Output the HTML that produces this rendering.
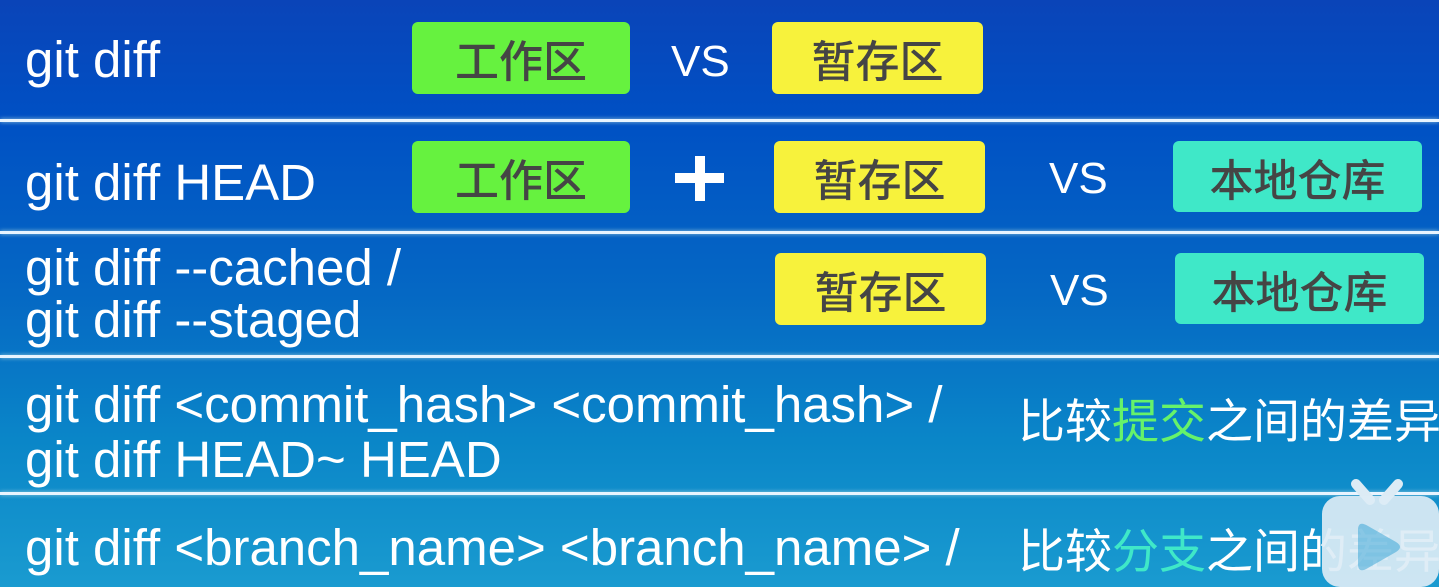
<!DOCTYPE html>
<html><head><meta charset="utf-8"><style>
body{margin:0;width:1439px;height:587px;overflow:hidden;position:relative;
background:linear-gradient(180deg,#0a44b8 0%,#0050c4 20%,#0568c4 50%,#0a86c8 75%,#1a9bd0 100%);
font-family:"Liberation Sans","Noto Sans CJK SC",sans-serif;color:#fff}
.t{position:absolute;font-size:51px;white-space:nowrap;line-height:1;transform-origin:0 50%}
.sep{position:absolute;left:0;width:1439px;height:3px;background:#e8f4ff;box-shadow:0 0 4px #9cd}
.b{position:absolute;border-radius:6px;color:#454545;font-size:44px;display:flex;align-items:center;justify-content:center;font-family:"Noto Sans CJK SC",sans-serif;font-weight:500}
.g{background:#66f23f}.y{background:#f7f23c}.c{background:#3fe8c8}
.vs{position:absolute;font-size:44px;line-height:1}
.cn{position:absolute;font-size:47px;font-family:"Noto Sans CJK SC",sans-serif;line-height:1;white-space:nowrap}
.pl{position:absolute;background:#fff}
</style></head><body>
<div class="sep" style="top:119px"></div>
<div class="sep" style="top:231px"></div>
<div class="sep" style="top:355px"></div>
<div class="sep" style="top:492px"></div>

<div class="t" style="left:25px;top:34px">git diff</div>
<div class="b g" style="left:412px;top:22px;width:218px;height:72px">工作区</div>
<div class="vs" style="left:671px;top:40px">VS</div>
<div class="b y" style="left:772px;top:22px;width:211px;height:72px">暂存区</div>

<div class="t" style="left:25px;top:157px">git diff HEAD</div>
<div class="b g" style="left:412px;top:141px;width:218px;height:72px">工作区</div>
<div class="pl" style="left:675px;top:173px;width:49px;height:10px"></div>
<div class="pl" style="left:695px;top:156px;width:10px;height:45px"></div>
<div class="b y" style="left:774px;top:141px;width:211px;height:72px">暂存区</div>
<div class="vs" style="left:1049px;top:157px">VS</div>
<div class="b c" style="left:1173px;top:141px;width:249px;height:71px">本地仓库</div>

<div class="t" style="left:25px;top:242px">git diff --cached /</div>
<div class="t" style="left:25px;top:294px">git diff --staged</div>
<div class="b y" style="left:775px;top:253px;width:211px;height:72px">暂存区</div>
<div class="vs" style="left:1050px;top:269px">VS</div>
<div class="b c" style="left:1175px;top:253px;width:249px;height:71px">本地仓库</div>

<div class="t" style="left:25px;top:379px">git diff &lt;commit_hash&gt; &lt;commit_hash&gt; /</div>
<div class="t" style="left:25px;top:434px">git diff HEAD~ HEAD</div>
<div class="cn" style="left:1018px;top:394px">比较<span style="color:#66f26a">提交</span>之间的差异</div>

<div class="t" style="left:25px;top:522px">git diff &lt;branch_name&gt; &lt;branch_name&gt; /</div>
<div class="cn" style="left:1018px;top:524px">比较<span style="color:#3fe8c8">分支</span>之间的差异</div>

<svg style="position:absolute;left:1318px;top:478px" width="121" height="109">
<line x1="38" y1="6" x2="52" y2="22" stroke="#dcebf5" stroke-width="10" stroke-linecap="round"/>
<line x1="80" y1="6" x2="66" y2="22" stroke="#dcebf5" stroke-width="10" stroke-linecap="round"/>
<rect x="4" y="18" width="117" height="91" rx="18" fill="#dcebf5" opacity="0.92"/>
<path d="M40 52 L40 86 Q40 96 50 90 L78 74 Q86 69 78 64 L50 48 Q40 42 40 52Z" fill="#1e9ad0" opacity="0.45"/>
</svg>
</body></html>
